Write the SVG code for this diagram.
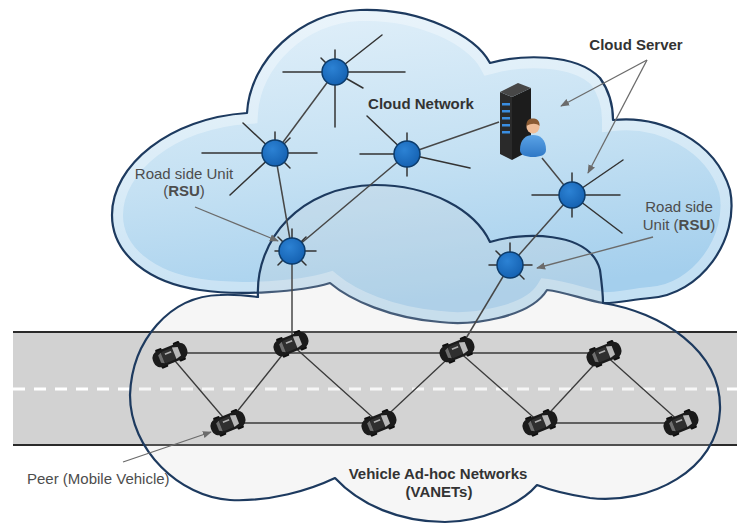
<svg xmlns="http://www.w3.org/2000/svg" width="737" height="524" viewBox="0 0 737 524">
  <defs>
    <linearGradient id="skyFill" x1="0" y1="0" x2="0.25" y2="1">
      <stop offset="0" stop-color="#e4f1fa"/>
      <stop offset="0.55" stop-color="#c5e1f3"/>
      <stop offset="1" stop-color="#a4cfed"/>
    </linearGradient>
    <radialGradient id="hubFill" cx="0.4" cy="0.35" r="0.7">
      <stop offset="0" stop-color="#2c82d4"/>
      <stop offset="1" stop-color="#1460b0"/>
    </radialGradient>
    <linearGradient id="personFill" x1="0" y1="0" x2="0" y2="1">
      <stop offset="0" stop-color="#5ba3e6"/>
      <stop offset="1" stop-color="#2f78c6"/>
    </linearGradient>
    <path id="upperShape" d="M247,113 C250,60 300,12 360,10 C420,8 475,35 490,63 C520,55 575,52 600,78 C610,92 613,108 613,120 C660,115 715,140 730,190 C740,240 700,295 650,298 C630,300 612,304 603,303 C585,300 565,292 547,290 C530,318 470,326 440,322 C390,318 350,300 330,283 C300,292 240,296 200,290 C150,283 112,255 112,215 C112,165 170,118 247,113 Z"/>
    <clipPath id="upperClip"><use href="#upperShape"/></clipPath>
    <marker id="arrow" viewBox="0 0 10 10" refX="9" refY="5" markerWidth="9" markerHeight="9" markerUnits="userSpaceOnUse" orient="auto">
      <path d="M0,1 L10,5 L0,9 Z" fill="#6b6b6b"/>
    </marker>
    <!-- top-view car, nose pointing along +x -->
    <g id="car">
      <rect x="-11" y="-9" width="6" height="3" rx="1" fill="#0e0e0e"/>
      <rect x="6" y="-9" width="6" height="3" rx="1" fill="#0e0e0e"/>
      <rect x="-11" y="6" width="6" height="3" rx="1" fill="#0e0e0e"/>
      <rect x="6" y="6" width="6" height="3" rx="1" fill="#0e0e0e"/>
      <rect x="-16" y="-7.5" width="32" height="15" rx="6.5" fill="#1b1b1b"/>
      <rect x="-7" y="-5.5" width="11" height="11" rx="2" fill="#2f2f2f"/>
      <path d="M4,-5.5 L9,-4 L9,4 L4,5.5 Z" fill="#b9b9b9"/>
      <path d="M-7,-5 L-10,-3.5 L-10,3.5 L-7,5 Z" fill="#6f6f6f"/>
      <rect x="-4" y="-3" width="6" height="1.5" fill="#e6e6e6" opacity="0.7"/>
    </g>
  </defs>
  <style>
    .cloud{stroke:#1d3a5f;stroke-width:2.2;stroke-linejoin:round}
    .spoke{stroke:#333;stroke-width:1.5;stroke-linecap:round}
    .link{stroke:#474747;stroke-width:1.5}
    .road-link{stroke:#3a3a3a;stroke-width:1.3}
    .note{stroke:#6b6b6b;stroke-width:1.3;fill:none;marker-end:url(#arrow)}
    .hub{fill:url(#hubFill);stroke:#0c3c6c;stroke-width:1.5}
    text{font-family:"Liberation Sans",Arial,sans-serif;font-size:15px}
    .lbl{fill:#4d4d4d}
    .ttl{fill:#333;font-weight:bold}
  </style>

  <rect width="737" height="524" fill="#ffffff"/>

  <!-- cloud network -->
  <g id="cloud-network">
    <use href="#upperShape" fill="url(#skyFill)"/>
    <use href="#upperShape" fill="none" stroke="#ffffff" stroke-width="22" opacity="0.35" clip-path="url(#upperClip)"/>
    <use href="#upperShape" fill="none" class="cloud"/>
  </g>

  <!-- road -->
  <g id="road">
    <rect x="13" y="332" width="724" height="113" fill="#d2d2d2"/>
    <line x1="13" y1="332" x2="737" y2="332" stroke="#2a2a2a" stroke-width="2"/>
    <line x1="13" y1="445" x2="737" y2="445" stroke="#2a2a2a" stroke-width="2"/>
    <line x1="13" y1="389" x2="737" y2="389" stroke="#ffffff" stroke-width="3" stroke-dasharray="12 9"/>
  </g>

  <!-- vehicular network cloud -->
  <g id="vanet-cloud">
    <path class="cloud" fill="#d6d6d6" fill-opacity="0.22" d="M258,297 C255,240 300,186 375,185 C430,185 475,210 490,242 C520,232 590,230 600,270 C602,285 603,295 603,303 C660,312 722,350 720,410 C718,470 650,505 590,498 C570,495 550,490 537,485 C520,505 480,522 445,522 C400,522 360,505 335,478 C310,490 270,502 230,500 C180,497 130,450 130,395 C132,340 170,296 220,295 C235,294 250,296 258,297 Z"/>
  </g>

  <!-- links -->
  <g id="connectors">
    <line class="link" x1="335" y1="72" x2="275" y2="153"/>
    <line class="link" x1="275" y1="153" x2="292" y2="251"/>
    <line class="link" x1="407" y1="154" x2="292" y2="251"/>
    <line class="link" x1="407" y1="154" x2="499" y2="122"/>
    <line class="link" x1="542" y1="158" x2="572" y2="195"/>
    <line class="link" x1="572" y1="195" x2="510" y2="265"/>
    <line class="link" x1="292" y1="251" x2="292" y2="344"/>
    <line class="link" x1="510" y1="265" x2="459" y2="350"/>

    <line class="road-link" x1="170" y1="353" x2="604" y2="353"/>
    <line class="road-link" x1="170" y1="355" x2="228" y2="423"/>
    <line class="road-link" x1="228" y1="423" x2="291" y2="344"/>
    <line class="road-link" x1="291" y1="344" x2="379" y2="423"/>
    <line class="road-link" x1="228" y1="423" x2="379" y2="423"/>
    <line class="road-link" x1="379" y1="423" x2="457" y2="350"/>
    <line class="road-link" x1="457" y1="350" x2="540" y2="423"/>
    <line class="road-link" x1="540" y1="423" x2="604" y2="354"/>
    <line class="road-link" x1="604" y1="354" x2="681" y2="423"/>
    <line class="road-link" x1="540" y1="423" x2="681" y2="423"/>

    <!-- callout arrows -->
    <line class="note" x1="195" y1="207" x2="278" y2="241"/>
    <line class="note" x1="647" y1="60" x2="561" y2="106"/>
    <line class="note" x1="647" y1="60" x2="588" y2="173"/>
    <line class="note" x1="653" y1="237" x2="537" y2="268"/>
    <line class="note" x1="123" y1="462" x2="211" y2="432"/>
  </g>

  <!-- cloud routers -->
  <g id="hub-top">
    <line class="spoke" x1="283" y1="72" x2="405" y2="72"/>
    <line class="spoke" x1="335" y1="50" x2="335" y2="127"/>
    <line class="spoke" x1="335" y1="72" x2="382" y2="35"/>
    <line class="spoke" x1="335" y1="72" x2="321" y2="58"/>
    <line class="spoke" x1="335" y1="72" x2="363" y2="88"/>
    <circle class="hub" cx="335" cy="72" r="13"/>
  </g>
  <g id="rsu-left-upper">
    <line class="spoke" x1="202" y1="153" x2="317" y2="153"/>
    <line class="spoke" x1="275" y1="153" x2="243" y2="123"/>
    <line class="spoke" x1="275" y1="153" x2="230" y2="195"/>
    <line class="spoke" x1="275" y1="153" x2="275" y2="132"/>
    <line class="spoke" x1="275" y1="153" x2="290" y2="138"/>
    <line class="spoke" x1="275" y1="153" x2="290" y2="168"/>
    <circle class="hub" cx="275" cy="153" r="13"/>
  </g>
  <g id="hub-middle">
    <line class="spoke" x1="360" y1="154" x2="407" y2="154"/>
    <line class="spoke" x1="407" y1="154" x2="470" y2="168"/>
    <line class="spoke" x1="407" y1="154" x2="367" y2="116"/>
    <line class="spoke" x1="407" y1="133" x2="407" y2="176"/>
    <circle class="hub" cx="407" cy="154" r="13"/>
  </g>
  <g id="rsu-right-upper">
    <line class="spoke" x1="532" y1="195" x2="620" y2="195"/>
    <line class="spoke" x1="572" y1="195" x2="623" y2="160"/>
    <line class="spoke" x1="572" y1="195" x2="622" y2="233"/>
    <line class="spoke" x1="572" y1="173" x2="572" y2="217"/>
    <circle class="hub" cx="572" cy="195" r="13"/>
  </g>
  <g id="rsu-left">
    <line class="spoke" x1="275" y1="251" x2="316" y2="251"/>
    <line class="spoke" x1="292" y1="229" x2="292" y2="251"/>
    <line class="spoke" x1="278" y1="237" x2="306" y2="265"/>
    <line class="spoke" x1="306" y1="237" x2="278" y2="265"/>
    <circle class="hub" cx="292" cy="251" r="13"/>
  </g>
  <g id="rsu-right">
    <line class="spoke" x1="489" y1="265" x2="532" y2="265"/>
    <line class="spoke" x1="510" y1="243" x2="510" y2="265"/>
    <line class="spoke" x1="496" y1="251" x2="524" y2="279"/>
    <circle class="hub" cx="510" cy="265" r="13"/>
  </g>

  <!-- server with operator -->
  <g id="cloud-server">
    <polygon points="512,97 531,88 531,150 512,160" fill="#1c1c1c"/>
    <polygon points="500,92 512,97 512,160 500,154" fill="#2a2a2a"/>
    <polygon points="500,92 518,83 531,88 512,97" fill="#474747"/>
    <g fill="#3a8de0">
      <rect x="502" y="103" width="8" height="2.5"/>
      <rect x="502" y="110" width="8" height="2.5"/>
      <rect x="502" y="117" width="8" height="2.5"/>
      <rect x="502" y="124" width="8" height="2.5"/>
      <rect x="502" y="131" width="8" height="2.5"/>
    </g>
    <path d="M520,150 C520,139 526,135 533,135 C540,135 546,139 546,150 C546,155 540,157 533,157 C526,157 520,155 520,150 Z" fill="url(#personFill)"/>
    <circle cx="533" cy="127" r="6.5" fill="#efbd98"/>
    <path d="M526.5,126 C526,119 531,118 534,118.5 C538,119 540,122 539.5,126 C537,123 531,123 526.5,126 Z" fill="#8a5a32"/>
  </g>

  <!-- vehicles -->
  <g id="vehicles">
    <use href="#car" transform="translate(170,355) rotate(-22) scale(1.12)"/>
    <use href="#car" transform="translate(291,344) rotate(-22) scale(1.12)"/>
    <use href="#car" transform="translate(228,423) rotate(-22) scale(1.12)"/>
    <use href="#car" transform="translate(379,423) rotate(-22) scale(1.12)"/>
    <use href="#car" transform="translate(457,350) rotate(-22) scale(1.12)"/>
    <use href="#car" transform="translate(604,354) rotate(-22) scale(1.12)"/>
    <use href="#car" transform="translate(540,423) rotate(-22) scale(1.12)"/>
    <use href="#car" transform="translate(681,423) rotate(-22) scale(1.12)"/>
  </g>

  <!-- labels -->
  <g id="labels">
    <text class="ttl" x="421" y="109" text-anchor="middle">Cloud Network</text>
    <text class="ttl" x="636" y="50" text-anchor="middle">Cloud Server</text>
    <text class="lbl" x="184" y="179" text-anchor="middle">Road side Unit</text>
    <text class="lbl" x="184" y="196" text-anchor="middle">(<tspan font-weight="bold">RSU</tspan>)</text>
    <text class="lbl" x="679" y="212" text-anchor="middle">Road side</text>
    <text class="lbl" x="679" y="230" text-anchor="middle">Unit (<tspan font-weight="bold">RSU</tspan>)</text>
    <text class="lbl" x="27" y="484">Peer (Mobile Vehicle)</text>
    <text class="ttl" x="438" y="479" text-anchor="middle">Vehicle Ad-hoc Networks</text>
    <text class="ttl" x="439" y="497" text-anchor="middle">(VANETs)</text>
  </g>
</svg>
